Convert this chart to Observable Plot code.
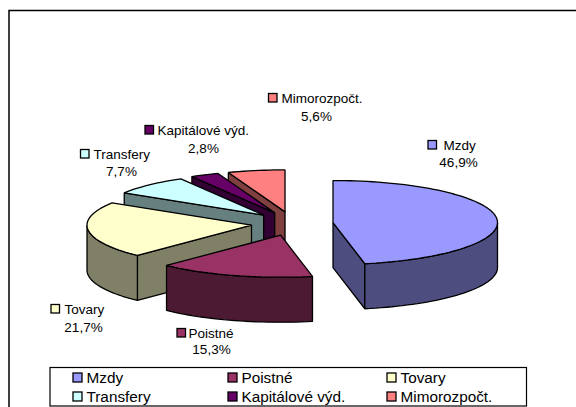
<!DOCTYPE html>
<html><head><meta charset="utf-8">
<script src="https://cdn.jsdelivr.net/npm/d3@7"></script>
<script src="https://cdn.jsdelivr.net/npm/@observablehq/plot@0.6"></script>
<style>html,body{margin:0;padding:0;background:#fff;overflow:hidden}svg{display:block}</style>
</head><body><div id="chart"></div>
<script>
const categories = ["Mzdy","Poistné","Tovary","Transfery","Kapitálové výd.","Mimorozpočt."];
const shares = [46.9,15.3,21.7,7.7,2.8,5.6];
const shareLabels = ["46,9%","15,3%","21,7%","7,7%","2,8%","5,6%"];
const topColors = ["#9999FF","#993366","#FFFFCC","#CCFFFF","#660066","#FF8080"];
const sideColors = ["#4D4D80","#4D1A33","#808066","#668080","#330033","#804040"];

// chart layout (pixels)
const W = 576, H = 407;
const pie = {cx:291.7, cy:223.2, rx:164.5, ry:42, depth:45, explodeX:41, explodeY:12};
const swatchX = [428,177,51,80.5,145,268.5];
const labelX = [443,188,64,93,157,281];
const labelY = [145,333,309,154,130,98];
const valueX = [458,211,83,121,203,316];
const valueY = [162,349,327,171,148,116];
const legendCols = [73,228,387];
const legendRows = [377.5,396.5];

const rad = d => d * Math.PI / 180;
let acc = 0;
const wedges = shares.map((v,i) => {
  const a0 = acc * 3.6; acc += v; const a1 = acc * 3.6;
  const mid = rad((a0+a1)/2);
  return {i, a0, a1,
    ax: pie.cx + pie.explodeX*Math.sin(mid),
    ay: pie.cy - pie.explodeY*Math.cos(mid)};
});
const pt = (w,a) => [w.ax + pie.rx*Math.sin(rad(a)), w.ay - pie.ry*Math.cos(rad(a))];
const arc = (w,a,b) => { const n = Math.max(2,Math.ceil((b-a)/2)); return d3.range(n+1).map(k => pt(w,a+(b-a)*k/n)); };

const polys = [];
let pid = 0;
const add = (ring,color) => { const id = pid++; ring.forEach(p => polys.push({id,x:p[0],y:p[1],color})); };
const extrude = (seg,color) => add([...seg, ...seg.slice().reverse().map(p => [p[0],p[1]+pie.depth])],color);
// back to front: last wedge first, Mzdy in front
for (const w of wedges.slice().reverse()) {
  const side = sideColors[w.i];
  if (Math.sin(rad(w.a0)) < -1e-9) extrude([[w.ax,w.ay],pt(w,w.a0)],side);
  if (Math.sin(rad(w.a1)) > 1e-9) extrude([pt(w,w.a1),[w.ax,w.ay]],side);
  const lo = Math.max(w.a0,90), hi = Math.min(w.a1,270);
  if (hi > lo) extrude(arc(w,lo,hi),side);
  add([[w.ax,w.ay],...arc(w,w.a0,w.a1)],topColors[w.i]);
}

const labels = categories.map((c,i)=>({c,i,sx:swatchX[i],x:labelX[i],y:labelY[i],vx:valueX[i],vy:valueY[i],s:shareLabels[i]}));
const legend = categories.map((c,i)=>({c,i,x:legendCols[i%3],y:legendRows[Math.floor(i/3)]}));
const frame = [{x1:9,x2:600,y1:10.5,y2:440}];
const legendBox = [{x1:50,x2:526.5,y1:367.5,y2:406}];

const plot = Plot.plot({
  width:W,height:H,margin:0,
  x:{domain:[0,W],range:[0,W],axis:null},
  y:{domain:[0,H],range:[0,H],axis:null},
  color:{type:"identity"},
  style:{fontFamily:"'Liberation Sans',Arial,sans-serif",background:"#fff"},
  marks:[
    Plot.rect(frame,{x1:"x1",x2:"x2",y1:"y1",y2:"y2",fill:"#fff",stroke:"#000",strokeWidth:1.5}),
    Plot.line(polys,{x:"x",y:"y",z:"id",fill:"color",stroke:"#000",strokeWidth:1.3,curve:"linear-closed",strokeLinejoin:"miter"}),
    // data labels
    Plot.rect(labels,{x1:"sx",x2:d=>d.sx+8.5,y1:d=>d.y-4.5,y2:d=>d.y+4,fill:d=>topColors[d.i],stroke:"#000",strokeWidth:1.3}),
    Plot.text(labels,{x:"x",y:"y",text:"c",textAnchor:"start",fontSize:13.5,fill:"#000"}),
    Plot.text(labels,{x:"vx",y:"vy",text:"s",textAnchor:"middle",fontSize:13.5,fill:"#000"}),
    // legend
    Plot.rect(legendBox,{x1:"x1",x2:"x2",y1:"y1",y2:"y2",fill:"#fff",stroke:"#000",strokeWidth:1.2}),
    Plot.rect(legend,{x1:d=>d.x,x2:d=>d.x+9,y1:d=>d.y-4.5,y2:d=>d.y+4.5,fill:d=>topColors[d.i],stroke:"#000",strokeWidth:1.3}),
    Plot.text(legend,{x:d=>d.x+13,y:"y",text:"c",textAnchor:"start",fontSize:15.3,fill:"#000"})
  ]
});
document.getElementById("chart").append(plot);
</script></body></html>
